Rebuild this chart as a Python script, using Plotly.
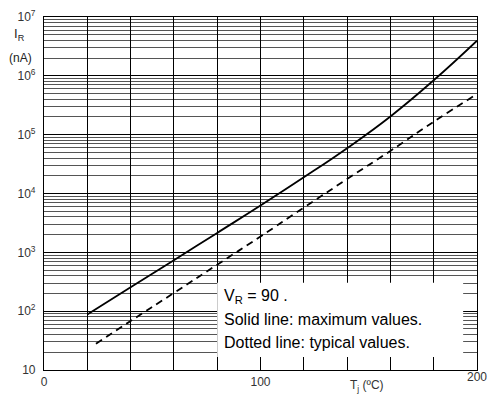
import plotly.graph_objects as go

# Junction temperature (°C) and reverse current (nA)
temp_max = [20, 40, 60, 80, 100, 120, 140, 160, 180, 200]
ir_max = [88, 254, 736, 2140, 6240, 18800, 58900, 204000, 841000, 3960000]

temp_typ = [24, 40, 60, 80, 100, 120, 140, 160, 180, 200]
ir_typ = [28, 68, 204, 617, 1860, 5750, 17600, 53000, 166000, 490000]

x_grid = list(range(0, 201, 20))
x_labels = ["0" if v == 0 else "100" if v == 100 else "" for v in x_grid]
y_decades = [10, 100, 1000, 10000, 100000, 1000000, 10000000]
y_labels = ["10", "10<sup>2</sup>", "10<sup>3</sup>", "10<sup>4</sup>",
            "10<sup>5</sup>", "10<sup>6</sup>", "10<sup>7</sup>"]
y_minor = [k * d for d in y_decades[:-1] for k in range(2, 10)]

FONT = "Liberation Sans, Arial, sans-serif"

fig = go.Figure()
fig.add_trace(go.Scatter(
    x=temp_max, y=ir_max, mode="lines",
    line=dict(color="black", width=1.8, shape="spline", smoothing=1.3),
    showlegend=False,
))
fig.add_trace(go.Scatter(
    x=temp_typ, y=ir_typ, mode="lines",
    line=dict(color="black", width=1.8, dash="7px,5px", shape="spline", smoothing=1.3),
    showlegend=False,
))

# white note panel over the grid
fig.add_shape(type="rect", xref="x domain", yref="y domain",
              x0=0.400, x1=0.968, y0=0.037, y1=0.247,
              fillcolor="white", line=dict(width=0), layer="above")

notes = [("V<sub>R</sub> = 90 .", 0.207),
         ("Solid line: maximum values.", 0.142),
         ("Dotted line: typical values.", 0.077)]
for txt, yy in notes:
    fig.add_annotation(text=txt, xref="x domain", yref="y domain", x=0.411, y=yy,
                       xanchor="left", yanchor="middle", showarrow=False,
                       font=dict(family=FONT, size=16, color="black"))

# last x label sits at the right edge of the frame
fig.add_annotation(text="200", xref="x", yref="paper", x=200, y=-0.021,
                   xanchor="center", yanchor="middle", showarrow=False,
                   font=dict(family=FONT, size=12, color="#333"))

fig.add_annotation(text="I<sub>R</sub>", xref="paper", yref="paper", x=-0.057, y=0.950,
                   xanchor="center", yanchor="middle", showarrow=False,
                   font=dict(family=FONT, size=13, color="#222"))
fig.add_annotation(text="(nA)", xref="paper", yref="paper", x=-0.055, y=0.885,
                   xanchor="center", yanchor="middle", showarrow=False,
                   font=dict(family=FONT, size=12, color="#222"))
fig.add_annotation(text="T<sub>j</sub> (ºC)", xref="paper", yref="paper", x=0.745, y=-0.045,
                   xanchor="center", yanchor="middle", showarrow=False,
                   font=dict(family=FONT, size=12, color="#333"))

fig.update_xaxes(
    range=[0, 200], tickvals=x_grid, ticktext=x_labels,
    showgrid=True, gridcolor="black", gridwidth=1.2,
    showline=True, linecolor="black", linewidth=1.2, mirror=True,
    ticks="", zeroline=False, automargin=False,
    tickfont=dict(family=FONT, size=12, color="#333"),
)
fig.update_yaxes(
    type="log", range=[1, 7], tickvals=y_decades, ticktext=y_labels,
    showgrid=True, gridcolor="black", gridwidth=1.2,
    minor=dict(tickvals=y_minor, showgrid=True, gridcolor="#555", gridwidth=1, ticks=""),
    showline=True, linecolor="black", linewidth=1.2, mirror=True,
    ticks="", ticklabelstandoff=5, automargin=False,
    tickfont=dict(family=FONT, size=12, color="#333"),
)
fig.update_layout(
    width=487, height=395,
    margin=dict(l=44, r=10, t=17, b=25),
    paper_bgcolor="white", plot_bgcolor="white",
    font=dict(family=FONT),
)
fig.write_html("out.html")
